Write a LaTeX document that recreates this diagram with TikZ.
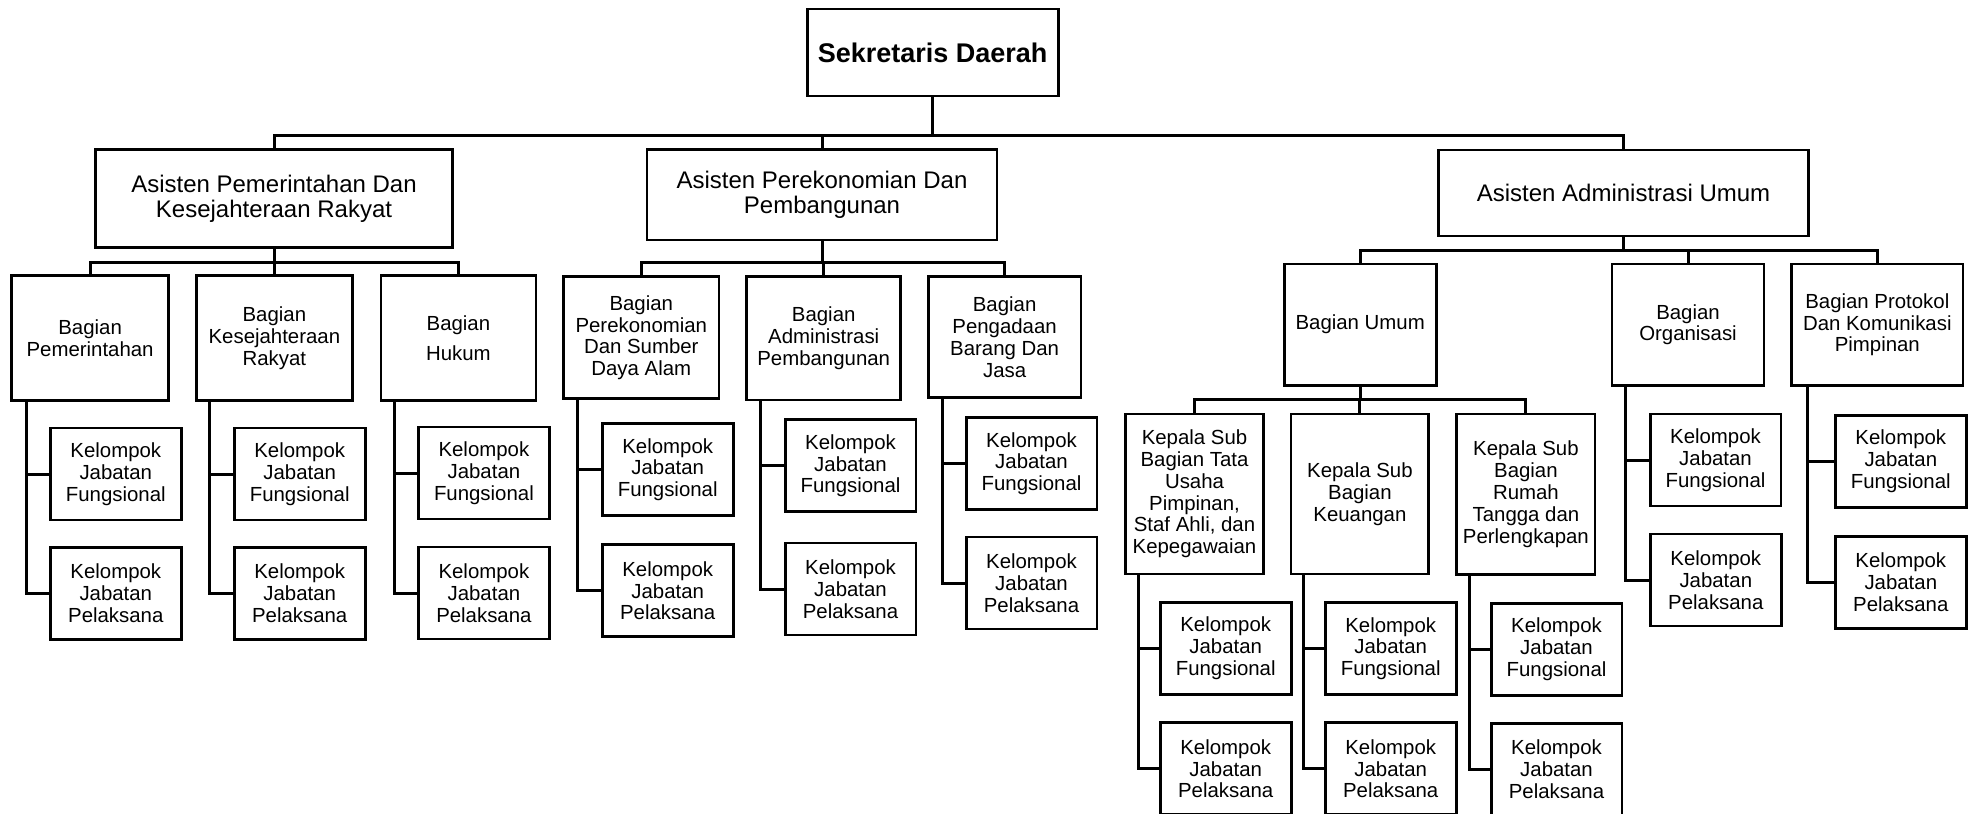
\documentclass[tikz,border=0pt]{standalone}
\usepackage{fontspec}
\setmainfont{Liberation Sans}
\newcommand\kstem[2]{%
  \draw[conn] ([xshift=#2]#1.south west) |- (#1F.west);
  \draw[conn] ([xshift=#2]#1.south west) |- (#1P.west);}
\begin{document}
\begin{tikzpicture}[x=0.5pt,y=-0.5pt,
  basebox/.style={draw, line width=1.4pt, inner sep=1pt, align=center, fill=white},
  sbox/.style={basebox, font=\fontsize{13.5}{16}\selectfont\bfseries},
  abox/.style={basebox, font=\fontsize{12}{12.3}\selectfont},
  bbox/.style={basebox, font=\fontsize{10.2}{10.9}\selectfont},
  kbox/.style={basebox, font=\fontsize{10.2}{10.9}\selectfont, minimum width=65.4pt, minimum height=46pt},
  conn/.style={draw, line width=1.5pt}]
\useasboundingbox (0,0) rectangle (1977,814);
\fill[white] (0,0) rectangle (1977,814);
\clip (0,0) rectangle (1977,814);

% top
\node[sbox, minimum width=125.5pt, minimum height=43.5pt] (S) at (932.7,52.5) {Sekretaris Daerah};

% asisten
\node[abox, minimum width=178.5pt, minimum height=49pt] (A1) at (274,198.7) {Asisten Pemerintahan Dan\\Kesejahteraan Rakyat};
\node[abox, minimum width=175pt, minimum height=45.1pt] (A2) at (822,194.9) {Asisten Perekonomian Dan\\Pembangunan};
\node[abox, minimum width=185.2pt, minimum height=43pt] (A3) at (1623.5,193) {Asisten Administrasi Umum};

% bagian
\node[bbox, minimum width=78.3pt, minimum height=62.5pt] (B1) at (90.1,338.2) {Bagian\\Pemerintahan};
\node[bbox, minimum width=78.3pt, minimum height=62.5pt] (B2) at (274.4,338.2) {Bagian\\Kesejahteraan\\Rakyat};
\node[bbox, minimum width=77.5pt, minimum height=62.2pt] (B3) at (458.4,337.9) {Bagian\\[4.2pt]Hukum};
\node[bbox, minimum width=77.7pt, minimum height=61pt] (B4) at (641.3,337.8) {Bagian\\Perekonomian\\Dan Sumber\\Daya Alam};
\node[bbox, minimum width=77pt, minimum height=61.6pt] (B5) at (823.7,338.4) {Bagian\\Administrasi\\Pembangunan};
\node[bbox, minimum width=76.4pt, minimum height=60.4pt] (B6) at (1004.6,337.2) {Bagian\\Pengadaan\\Barang Dan\\Jasa};
\node[bbox, minimum width=75.9pt, minimum height=60.7pt] (B7) at (1360.2,324.7) {Bagian Umum};
\node[bbox, minimum width=76pt, minimum height=60.9pt] (B8) at (1688,324.8) {Bagian\\Organisasi};
\node[bbox, minimum width=85.7pt, minimum height=60.9pt] (B9) at (1877.3,324.8) {Bagian Protokol\\Dan Komunikasi\\Pimpinan};

% kepala sub bagian
\node[bbox, minimum width=68.9pt, minimum height=80pt] (C1) at (1194.5,494) {Kepala Sub\\Bagian Tata\\Usaha\\Pimpinan,\\Staf Ahli, dan\\Kepegawaian};
\node[bbox, minimum width=68.9pt, minimum height=80pt] (C2) at (1359.9,494) {Kepala Sub\\Bagian\\Keuangan};
\node[bbox, minimum width=69.1pt, minimum height=80.3pt] (C3) at (1525.9,494.2) {Kepala Sub\\Bagian\\Rumah\\Tangga dan\\Perlengkapan};

% kelompok
\node[kbox] (B1F) at (115.8,474) {Kelompok\\Jabatan\\Fungsional};
\node[kbox] (B1P) at (115.8,593.5) {Kelompok\\Jabatan\\Pelaksana};
\node[kbox] (B2F) at (299.7,474) {Kelompok\\Jabatan\\Fungsional};
\node[kbox] (B2P) at (299.7,593.5) {Kelompok\\Jabatan\\Pelaksana};
\node[kbox] (B3F) at (483.9,473) {Kelompok\\Jabatan\\Fungsional};
\node[kbox] (B3P) at (483.9,593) {Kelompok\\Jabatan\\Pelaksana};
\node[kbox] (B4F) at (667.7,469.7) {Kelompok\\Jabatan\\Fungsional};
\node[kbox] (B4P) at (667.7,590.7) {Kelompok\\Jabatan\\Pelaksana};
\node[kbox] (B5F) at (850.5,465.8) {Kelompok\\Jabatan\\Fungsional};
\node[kbox] (B5P) at (850.5,589) {Kelompok\\Jabatan\\Pelaksana};
\node[kbox] (B6F) at (1031.5,463.6) {Kelompok\\Jabatan\\Fungsional};
\node[kbox] (B6P) at (1031.5,583) {Kelompok\\Jabatan\\Pelaksana};
\node[kbox] (C1F) at (1225.7,648.3) {Kelompok\\Jabatan\\Fungsional};
\node[kbox] (C1P) at (1225.7,768.7) {Kelompok\\Jabatan\\Pelaksana};
\node[kbox] (C2F) at (1390.7,648.7) {Kelompok\\Jabatan\\Fungsional};
\node[kbox] (C2P) at (1390.7,768.7) {Kelompok\\Jabatan\\Pelaksana};
\node[kbox] (C3F) at (1556.5,649.3) {Kelompok\\Jabatan\\Fungsional};
\node[kbox] (C3P) at (1556.5,769.3) {Kelompok\\Jabatan\\Pelaksana};
\node[kbox] (B8F) at (1715.5,460) {Kelompok\\Jabatan\\Fungsional};
\node[kbox] (B8P) at (1715.8,580) {Kelompok\\Jabatan\\Pelaksana};
\node[kbox] (B9F) at (1900.8,461.2) {Kelompok\\Jabatan\\Fungsional};
\node[kbox] (B9P) at (1900.8,582.5) {Kelompok\\Jabatan\\Pelaksana};

% bus coordinates
\coordinate (bar1) at (932.7,135.5);
\coordinate (bar2) at (274,262);
\coordinate (bar3) at (822,262.5);
\coordinate (bar4) at (1623.5,250.5);
\coordinate (bar5) at (1360.2,399.3);

% level 1
\draw[conn] (S.south) -- (bar1);
\draw[conn] (A1.north) |- (bar1) -| (A3.north);
\draw[conn] (A2.north) -- (A2.north |- bar1);

% level 2
\draw[conn] (A1.south) -- (bar2);
\draw[conn] (B1.north) |- (bar2) -| (B3.north);
\draw[conn] (B2.north) -- (B2.north |- bar2);

\draw[conn] (A2.south) -- (bar3);
\draw[conn] (B4.north) |- (bar3) -| (B6.north);
\draw[conn] (B5.north) -- (B5.north |- bar3);

\draw[conn] (A3.south) -- (bar4);
\draw[conn] (B7.north) |- (bar4) -| (B9.north);
\draw[conn] (B8.north) -- (B8.north |- bar4);

% level 3
\draw[conn] (B7.south) -- (bar5);
\draw[conn] (C1.north) |- (bar5) -| (C3.north);
\draw[conn] (C2.north) -- (C2.north |- bar5);

% stems to kelompok
\kstem{B1}{8pt}
\kstem{B2}{7.6pt}
\kstem{B3}{7.4pt}
\kstem{B4}{7.85pt}
\kstem{B5}{7.65pt}
\kstem{B6}{7.85pt}
\kstem{C1}{7pt}
\kstem{C2}{7.15pt}
\kstem{C3}{7.05pt}
\kstem{B8}{7.65pt}
\kstem{B9}{8.8pt}
\end{tikzpicture}
\end{document}
